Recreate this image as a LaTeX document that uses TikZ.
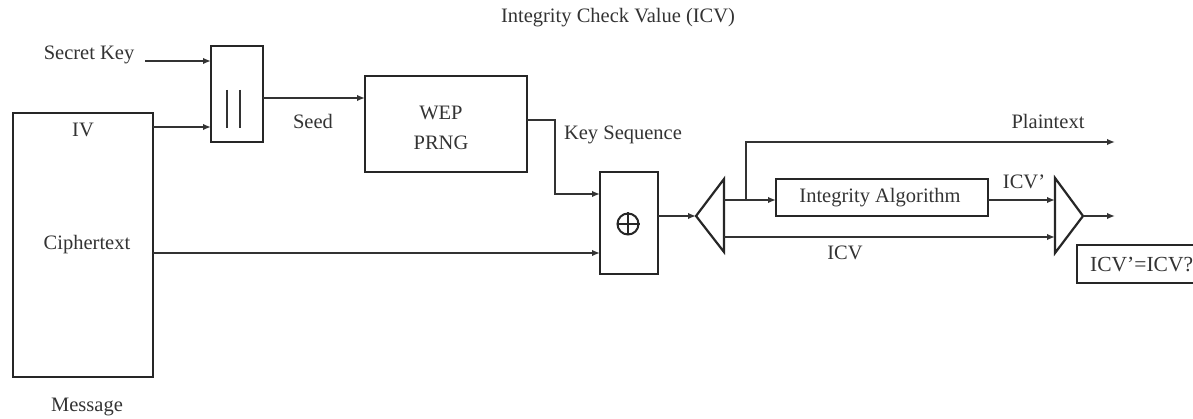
\documentclass[tikz,border=0pt]{standalone}
\usepackage{fontspec}
\setmainfont{Liberation Serif}
\usetikzlibrary{arrows.meta}
\begin{document}
\begin{tikzpicture}[x=1pt,y=-1pt,
  box/.style={draw=black!85, line width=2.6pt, inner sep=0pt, outer sep=0pt},
  conn/.style={draw=black!80, line width=1.7pt, -{Latex[length=8pt,width=6.5pt]}},
  tri/.style={draw=black!85, line width=2.2pt, line join=miter},
  lbl/.style={font=\fontsize{20.5}{30}\selectfont, text=black!80, inner sep=0pt},
]
\path[use as bounding box] (0,0) rectangle (1193,419);
\clip (0,0) rectangle (1193,419);
\fill[white] (0,0) rectangle (1193,419);

% boxes
\node[box, minimum width=140pt, minimum height=264pt] (msg) at (83,245) {};
\node[box, minimum width=52pt, minimum height=96pt] (cat) at (237,94) {};
\node[box, minimum width=162pt, minimum height=96pt] (wep) at (446,124) {};
\node[box, minimum width=58pt, minimum height=102pt] (xor) at (629,223) {};
\node[box, minimum width=212pt, minimum height=37pt] (ia) at (882,197.5) {};
\node[box, minimum width=130pt, minimum height=38pt] (cmpbox) at (1142,264) {};

% concatenation symbol
\draw[draw=black!80, line width=2pt] (227,90) -- (227,128) (240,90) -- (240,128);

% XOR symbol
\node[draw=black!85, line width=2pt, circle, minimum size=21pt, inner sep=0pt] (txor) at (628,224) {};
\draw[draw=black!85, line width=1.8pt] (txor.north) -- (txor.south) (txor.west) -- (txor.east);

% labels
\node[lbl] (tICVtitle) at (618,18) {Integrity Check Value (ICV)};
\node[lbl] (tsk) at (89,55) {Secret Key};
\node[lbl] (tiv) at (83,130) {IV};
\node[lbl] (tct) at (87,245) {Ciphertext};
\node[lbl] (tmsg) at (87,407) {Message};
\node[lbl] (tseed) at (313,121) {Seed};
\node[lbl, align=center] (twep) at (441,128) {WEP\\PRNG};
\node[lbl] (tks) at (623,135) {Key Sequence};
\node[lbl] (tpt) at (1048,121) {Plaintext};
\node[lbl] (tia) at (880,198) {Integrity Algorithm};
\node[lbl] (ticvp) at (1024,182) {ICV'};
\node[lbl] (ticv) at (845,253) {ICV};
\node[lbl, anchor=west, font=\fontsize{21.5}{30}\selectfont] (tcmp) at (1090,265) {ICV'=ICV?};

% coordinates
\coordinate (skend) at (145,61);
\coordinate (ivout) at (153,127);
\coordinate (seedout) at (263,98);
\coordinate (ksout) at (527,120);
\coordinate (ksbend1) at (555,120);
\coordinate (ksbend2) at (555,194);
\coordinate (ctout) at (153,253);
\coordinate (xorout) at (658,216);
\coordinate (dmtip) at (696,216);
\coordinate (dmtop) at (724,179);
\coordinate (dmbot) at (724,252);
\coordinate (dmup) at (724,200);
\coordinate (dmlow) at (724,237);
\coordinate (br) at (746,200);
\coordinate (brtop) at (746,142);
\coordinate (ptend) at (1115,142);
\coordinate (cmtop) at (1055,178);
\coordinate (cmbot) at (1055,253);
\coordinate (cmtip) at (1083,216);
\coordinate (cmend) at (1115,216);

% triangles
\draw[tri] (dmtip) -- (dmtop) -- (dmbot) -- cycle;
\draw[tri] (cmtop) -- (cmtip) -- (cmbot) -- cycle;

% connectors
\draw[conn] (skend) -- (skend -| cat.west);
\draw[conn] (ivout) -- (ivout -| cat.west);
\draw[conn] (seedout) -- (seedout -| wep.west);
\draw[conn] (ksout) -- (ksbend1) -- (ksbend2) -- (ksbend2 -| xor.west);
\draw[conn] (ctout) -- (ctout -| xor.west);
\draw[conn] (xorout) -- (dmtip);
\draw[conn] (dmup) -- (dmup -| ia.west);
\draw[conn] (br) -- (brtop) -- (ptend);
\draw[conn] (dmlow) -- (dmlow -| cmtop);
\draw[conn] (ia.east |- dmup) -- (dmup -| cmtop);
\draw[conn] (cmtip) -- (cmend);
\end{tikzpicture}
\end{document}
